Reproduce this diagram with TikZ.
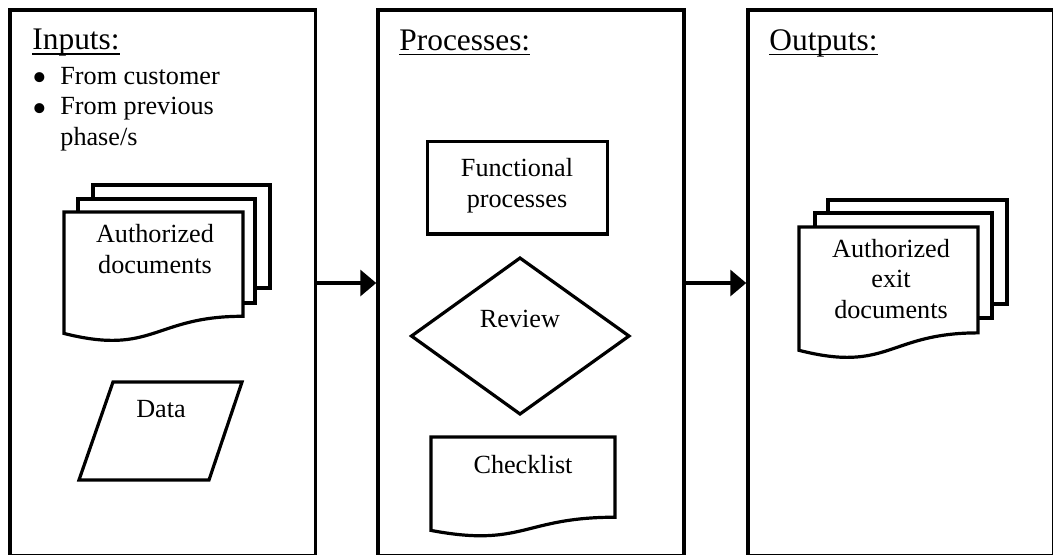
\documentclass[tikz,border=0pt]{standalone}
\usepackage{graphicx}
\usepackage{fontspec}
\setmainfont{Liberation Serif}
\usetikzlibrary{arrows.meta}

% underlined panel heading
\newsavebox\headbox
\newcommand\headline[1]{\sbox\headbox{#1}\rlap{\rule[-2.6pt]{\wd\headbox}{0.8pt}}\usebox\headbox}
% large bullet with a fixed hanging indent
\newcommand\itembul{\makebox[14pt][l]{\smash{\raisebox{-3.6pt}{\scalebox{1.6}{•}}}}}
% flowchart "document" outline: top-left x, top-left y, width, height
\newcommand\drawdoc[4]{%
  \draw[shp] (#1,#2) -- ({#1+#3},#2) -- ({#1+#3},{#2+0.802*#4})
    .. controls ({#1+0.5*#3},{#2+0.802*#4}) and ({#1+0.5*#3},{#2+1.108*#4}) ..
    (#1,{#2+0.934*#4}) -- cycle;}

\tikzset{
  panel/.style={draw, line width=1.75pt, minimum height=273pt, inner sep=0pt},
  shp/.style={draw, line width=1.6pt, fill=white},
  flow/.style={line width=1.75pt, -{Triangle[length=8pt,width=13pt]}},
  body/.style={font=\fontsize{13.1pt}{15.1pt}\selectfont, inner sep=0pt, align=center},
  head/.style={font=\fontsize{15.7pt}{18pt}\selectfont, inner sep=0pt, anchor=base west},
}

\begin{document}
\begin{tikzpicture}[x=0.5pt, y=-0.5pt]
\useasboundingbox (0,0) rectangle (1053,554);
\clip (0,0) rectangle (1053,554);

% the three phase panels and the flow between them
\node[panel, minimum width=152.75pt] (inputs) at (162.75,283) {};
\node[panel, minimum width=153pt] (processes) at (531,283) {};
\node[panel, minimum width=153pt] (outputs) at (901,283) {};
\draw[flow] (inputs.east) -- (processes.west);
\draw[flow] (processes.east) -- (outputs.west);

% inputs (multi-line nodes are placed by the baseline of their last line)
\node[head] (inhead) at (32,49.5) {\headline{Inputs:}};
\node[body, align=left, anchor=base west] (inlist) at (32,145)
  {\itembul From customer\\\itembul From previous\\\hspace*{14pt}phase/s};
\draw[shp] (93,185) rectangle (270,288);
\draw[shp] (78,199) rectangle (255,303);
\drawdoc{64}{212}{179}{130}
\node[body, anchor=base] (indocs) at (155,273) {Authorized\\documents};
\draw[shp] (113,382) -- (242,382) -- (209,480) -- (79,480) -- cycle;
\node[body, anchor=base] (data) at (161,417) {Data};

% processes
\node[head] (prochead) at (399,50) {\headline{Processes:}};
\draw[shp] (427.5,141.5) rectangle (607.5,234);
\node[body, anchor=base] (func) at (517,207) {Functional\\processes};
\draw[shp] (520,258) -- (629,336) -- (520,414) -- (411.5,336) -- cycle;
\node[body, anchor=base] (review) at (520,327) {Review};
\drawdoc{431}{437}{184}{100}
\node[body, anchor=base] (check) at (523,473) {Checklist};

% outputs
\node[head] (outhead) at (769,50) {\headline{Outputs:}};
\draw[shp] (828,200) rectangle (1007,304);
\draw[shp] (815,213) rectangle (992,318);
\drawdoc{799}{227}{179}{132}
\node[body, anchor=base] (outdocs) at (891,318) {Authorized\\exit\\documents};
\end{tikzpicture}
\end{document}
